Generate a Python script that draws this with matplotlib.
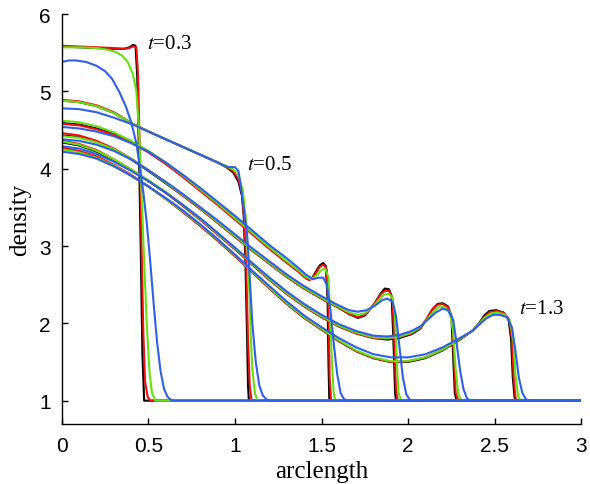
#!/usr/bin/env python

"""
plot.py

density along the arclength at t=0.3 ... 1.3, four resolutions
"""

import matplotlib as mpl
mpl.use('Agg')
import matplotlib.pyplot as plt

"""------------------------------------- DATA -----------------------------------------"""

# t=0.3
x03_k = [0, 0.1, 0.2, 0.3, 0.36, 0.39, 0.41, 0.425, 0.435, 0.445, 0.455, 0.465, 0.475, 3.0]
y03_k = [5.58, 5.57, 5.56, 5.55, 5.55, 5.57, 5.60, 5.59, 5.2, 4.2, 3.0, 1.6, 1.0, 1.0]
x03_r = [0, 0.1, 0.2, 0.3, 0.36, 0.39, 0.41, 0.43, 0.44, 0.45, 0.46, 0.47, 0.48, 0.495, 0.51, 3.0]
y03_r = [5.59, 5.58, 5.57, 5.56, 5.55, 5.56, 5.58, 5.57, 5.2, 4.2, 3.0, 1.9, 1.25, 1.05, 1.0, 1.0]
x03_g = [0, 0.1, 0.2, 0.26, 0.31, 0.35, 0.38, 0.41, 0.43, 0.445, 0.46, 0.475, 0.49, 0.505, 0.52, 0.54, 3.0]
y03_g = [5.57, 5.57, 5.56, 5.54, 5.51, 5.46, 5.38, 5.22, 5.0, 4.5, 3.7, 2.8, 2.0, 1.4, 1.1, 1.0, 1.0]
x03_b = [0, 0.04, 0.08, 0.14, 0.2, 0.25, 0.29, 0.33, 0.37, 0.40, 0.43, 0.45, 0.47, 0.49,
         0.51, 0.53, 0.55, 0.57, 0.59, 0.61, 0.63, 0.65, 3.0]
y03_b = [5.38, 5.40, 5.40, 5.38, 5.33, 5.26, 5.16, 5.0, 4.8, 4.6, 4.33, 4.02, 3.7, 3.3,
         2.8, 2.25, 1.75, 1.38, 1.15, 1.05, 1.01, 1.0, 1.0]

# t=0.5
x05_k = [0, 0.1, 0.2, 0.3, 0.41, 0.5, 0.6, 0.7, 0.8, 0.9, 0.95, 0.99, 1.02, 1.04, 1.05,
         1.06, 1.07, 1.075, 1.08, 3.0]
y05_k = [4.88, 4.86, 4.81, 4.72, 4.58, 4.48, 4.38, 4.28, 4.18, 4.08, 4.02, 3.95, 3.83, 3.65, 3.4,
         2.8, 1.8, 1.2, 1.0, 1.0]
x05_r = [0, 0.1, 0.2, 0.3, 0.41, 0.5, 0.6, 0.7, 0.8, 0.9, 0.95, 0.99, 1.02, 1.04, 1.055,
         1.065, 1.075, 1.085, 1.095, 3.0]
y05_r = [4.89, 4.87, 4.82, 4.73, 4.58, 4.48, 4.38, 4.28, 4.18, 4.08, 4.02, 3.97, 3.86, 3.7, 3.3,
         2.7, 1.8, 1.2, 1.0, 1.0]
x05_g = [0, 0.1, 0.2, 0.3, 0.41, 0.5, 0.6, 0.7, 0.8, 0.9, 0.95, 0.99, 1.02, 1.045, 1.065,
         1.08, 1.09, 1.10, 1.115, 1.13, 3.0]
y05_g = [4.88, 4.86, 4.81, 4.72, 4.58, 4.48, 4.38, 4.28, 4.18, 4.08, 4.03, 3.99, 3.92, 3.72, 3.3,
         2.6, 1.9, 1.4, 1.1, 1.0, 1.0]
x05_b = [0, 0.1, 0.2, 0.3, 0.41, 0.5, 0.6, 0.7, 0.8, 0.9, 0.96, 1.0, 1.02, 1.035, 1.05,
         1.07, 1.085, 1.10, 1.12, 1.14, 1.16, 1.18, 1.20, 3.0]
y05_b = [4.78, 4.77, 4.73, 4.66, 4.57, 4.48, 4.38, 4.28, 4.18, 4.08, 4.02, 4.02, 3.97, 3.75, 3.5,
         3.15, 2.6, 2.0, 1.5, 1.2, 1.07, 1.02, 1.0, 1.0]

# t=0.7
x07_k = [0, 0.1, 0.2, 0.3, 0.4, 0.5, 0.6, 0.7, 0.8, 0.9, 1.0, 1.1, 1.2, 1.3, 1.37, 1.41,
         1.43, 1.45, 1.47, 1.49, 1.51, 1.525, 1.535, 1.54, 1.545, 3.0]
y07_k = [4.59, 4.57, 4.52, 4.45, 4.35, 4.22, 4.07, 3.9, 3.72, 3.54, 3.35, 3.16, 2.97, 2.79, 2.67, 2.59,
         2.56, 2.6, 2.68, 2.75, 2.78, 2.74, 2.3, 1.5, 1.0, 1.0]
x07_r = [0, 0.1, 0.2, 0.3, 0.4, 0.5, 0.6, 0.7, 0.8, 0.9, 1.0, 1.1, 1.2, 1.3, 1.37, 1.41,
         1.43, 1.45, 1.47, 1.49, 1.51, 1.53, 1.54, 1.547, 1.555, 3.0]
y07_r = [4.58, 4.56, 4.51, 4.44, 4.34, 4.21, 4.06, 3.89, 3.71, 3.53, 3.34, 3.15, 2.96, 2.78, 2.66, 2.58,
         2.56, 2.59, 2.66, 2.73, 2.76, 2.7, 2.2, 1.3, 1.0, 1.0]
x07_g = [0, 0.1, 0.2, 0.3, 0.4, 0.5, 0.6, 0.7, 0.8, 0.9, 1.0, 1.1, 1.2, 1.3, 1.37, 1.41,
         1.44, 1.47, 1.50, 1.52, 1.54, 1.55, 1.56, 1.57, 1.58, 3.0]
y07_g = [4.62, 4.60, 4.55, 4.47, 4.36, 4.23, 4.08, 3.91, 3.73, 3.55, 3.36, 3.17, 2.98, 2.8, 2.68, 2.6,
         2.57, 2.62, 2.69, 2.71, 2.6, 2.1, 1.5, 1.1, 1.0, 1.0]
x07_b = [0, 0.1, 0.2, 0.3, 0.4, 0.5, 0.6, 0.7, 0.8, 0.9, 1.0, 1.1, 1.2, 1.3, 1.37, 1.41,
         1.45, 1.48, 1.51, 1.53, 1.55, 1.57, 1.59, 1.61, 1.63, 1.65, 3.0]
y07_b = [4.54, 4.52, 4.48, 4.42, 4.33, 4.22, 4.08, 3.92, 3.75, 3.57, 3.39, 3.2, 3.01, 2.84, 2.71, 2.63,
         2.57, 2.59, 2.59, 2.5, 2.2, 1.75, 1.35, 1.1, 1.02, 1.0, 1.0]

# t=0.9
x09_k = [0, 0.1, 0.2, 0.3, 0.4, 0.5, 0.6, 0.7, 0.8, 0.9, 1.0, 1.1, 1.2, 1.3, 1.4, 1.5, 1.6,
         1.66, 1.71, 1.75, 1.78, 1.81, 1.84, 1.865, 1.89, 1.905, 1.915, 1.925, 1.93, 3.0]
y09_k = [4.43, 4.41, 4.35, 4.25, 4.12, 3.97, 3.81, 3.65, 3.48, 3.30, 3.12, 2.94, 2.77, 2.6, 2.45, 2.32, 2.2,
         2.12, 2.07, 2.1, 2.18, 2.27, 2.38, 2.45, 2.44, 2.35, 1.8, 1.1, 1.0, 1.0]
x09_r = [0, 0.1, 0.2, 0.3, 0.4, 0.5, 0.6, 0.7, 0.8, 0.9, 1.0, 1.1, 1.2, 1.3, 1.4, 1.5, 1.6,
         1.66, 1.71, 1.75, 1.78, 1.81, 1.84, 1.865, 1.89, 1.91, 1.92, 1.93, 1.94, 3.0]
y09_r = [4.46, 4.43, 4.36, 4.26, 4.13, 3.98, 3.82, 3.65, 3.48, 3.30, 3.12, 2.94, 2.77, 2.6, 2.45, 2.32, 2.2,
         2.12, 2.08, 2.11, 2.18, 2.27, 2.37, 2.42, 2.42, 2.32, 1.8, 1.15, 1.0, 1.0]
x09_g = [0, 0.1, 0.2, 0.3, 0.4, 0.5, 0.6, 0.7, 0.8, 0.9, 1.0, 1.1, 1.2, 1.3, 1.4, 1.5, 1.6,
         1.66, 1.71, 1.75, 1.79, 1.83, 1.86, 1.89, 1.91, 1.925, 1.935, 1.945, 1.96, 3.0]
y09_g = [4.42, 4.40, 4.34, 4.25, 4.13, 3.98, 3.82, 3.66, 3.49, 3.31, 3.13, 2.95, 2.78, 2.61, 2.46, 2.33, 2.21,
         2.14, 2.11, 2.13, 2.2, 2.3, 2.37, 2.38, 2.33, 2.1, 1.5, 1.1, 1.0, 1.0]
x09_b = [0, 0.1, 0.2, 0.3, 0.4, 0.5, 0.6, 0.7, 0.8, 0.9, 1.0, 1.1, 1.2, 1.3, 1.4, 1.5, 1.6,
         1.66, 1.71, 1.76, 1.81, 1.85, 1.88, 1.91, 1.93, 1.95, 1.97, 1.99, 2.01, 2.03, 3.0]
y09_b = [4.38, 4.36, 4.31, 4.23, 4.12, 3.98, 3.83, 3.67, 3.5, 3.33, 3.15, 2.97, 2.8, 2.63, 2.48, 2.35, 2.23,
         2.17, 2.15, 2.17, 2.23, 2.3, 2.32, 2.28, 2.1, 1.7, 1.3, 1.08, 1.01, 1.0, 1.0]

# t=1.1
x11_k = [0, 0.1, 0.2, 0.3, 0.4, 0.5, 0.6, 0.7, 0.8, 0.9, 1.0, 1.1, 1.2, 1.3, 1.4, 1.5, 1.6, 1.7,
         1.8, 1.88, 1.95, 2.02, 2.07, 2.11, 2.14, 2.17, 2.2, 2.23, 2.25, 2.26, 2.27, 2.28, 3.0]
y11_k = [4.34, 4.30, 4.22, 4.11, 3.98, 3.84, 3.69, 3.52, 3.34, 3.15, 2.96, 2.76, 2.56, 2.38, 2.22, 2.08, 1.96, 1.87,
         1.81, 1.79, 1.81, 1.86, 1.93, 2.06, 2.18, 2.25, 2.26, 2.22, 2.1, 1.6, 1.1, 1.0, 1.0]
x11_r = [0, 0.1, 0.2, 0.3, 0.4, 0.5, 0.6, 0.7, 0.8, 0.9, 1.0, 1.1, 1.2, 1.3, 1.4, 1.5, 1.6, 1.7,
         1.8, 1.88, 1.95, 2.02, 2.07, 2.11, 2.14, 2.17, 2.2, 2.23, 2.255, 2.265, 2.275, 2.29, 3.0]
y11_r = [4.36, 4.32, 4.24, 4.12, 3.99, 3.84, 3.69, 3.52, 3.34, 3.15, 2.96, 2.76, 2.56, 2.38, 2.22, 2.08, 1.96, 1.87,
         1.81, 1.80, 1.82, 1.87, 1.94, 2.07, 2.18, 2.24, 2.25, 2.21, 2.05, 1.55, 1.1, 1.0, 1.0]
x11_g = [0, 0.1, 0.2, 0.3, 0.4, 0.5, 0.6, 0.7, 0.8, 0.9, 1.0, 1.1, 1.2, 1.3, 1.4, 1.5, 1.6, 1.7,
         1.8, 1.88, 1.95, 2.02, 2.07, 2.11, 2.15, 2.18, 2.21, 2.24, 2.26, 2.275, 2.29, 2.31, 3.0]
y11_g = [4.35, 4.31, 4.23, 4.12, 3.99, 3.85, 3.70, 3.53, 3.35, 3.16, 2.97, 2.77, 2.57, 2.39, 2.23, 2.09, 1.97, 1.88,
         1.82, 1.81, 1.83, 1.88, 1.95, 2.05, 2.16, 2.21, 2.21, 2.15, 1.9, 1.4, 1.08, 1.0, 1.0]
x11_b = [0, 0.1, 0.2, 0.3, 0.4, 0.5, 0.6, 0.7, 0.8, 0.9, 1.0, 1.1, 1.2, 1.3, 1.4, 1.5, 1.6, 1.7,
         1.8, 1.88, 1.95, 2.02, 2.07, 2.12, 2.16, 2.2, 2.23, 2.26, 2.28, 2.3, 2.32, 2.34, 2.36, 3.0]
y11_b = [4.29, 4.26, 4.19, 4.09, 3.97, 3.84, 3.69, 3.53, 3.36, 3.17, 2.98, 2.78, 2.59, 2.41, 2.25, 2.11, 1.99, 1.90,
         1.84, 1.83, 1.85, 1.9, 1.96, 2.06, 2.14, 2.19, 2.17, 2.05, 1.75, 1.4, 1.15, 1.03, 1.0, 1.0]

# t=1.3
x13_k = [0, 0.1, 0.2, 0.3, 0.4, 0.5, 0.6, 0.7, 0.8, 0.9, 1.0, 1.1, 1.2, 1.3, 1.4, 1.5, 1.6, 1.7,
         1.8, 1.9, 2.0, 2.1, 2.2, 2.3, 2.37, 2.41, 2.44, 2.47, 2.51, 2.55, 2.58, 2.595, 2.605,
         2.615, 2.62, 3.0]
y13_k = [4.26, 4.22, 4.15, 4.04, 3.91, 3.77, 3.61, 3.44, 3.26, 3.07, 2.87, 2.66, 2.45, 2.25, 2.07, 1.92, 1.77, 1.64,
         1.55, 1.50, 1.50, 1.55, 1.65, 1.79, 1.9, 2.0, 2.1, 2.16, 2.17, 2.14, 2.06, 1.8, 1.3,
         1.05, 1.0, 1.0]
x13_r = [0, 0.1, 0.2, 0.3, 0.4, 0.5, 0.6, 0.7, 0.8, 0.9, 1.0, 1.1, 1.2, 1.3, 1.4, 1.5, 1.6, 1.7,
         1.8, 1.9, 2.0, 2.1, 2.2, 2.3, 2.37, 2.41, 2.44, 2.47, 2.51, 2.55, 2.585, 2.60, 2.61,
         2.62, 2.63, 3.0]
y13_r = [4.27, 4.23, 4.16, 4.05, 3.92, 3.77, 3.61, 3.44, 3.26, 3.07, 2.87, 2.66, 2.45, 2.25, 2.07, 1.92, 1.77, 1.64,
         1.55, 1.50, 1.51, 1.56, 1.66, 1.8, 1.9, 1.99, 2.08, 2.14, 2.16, 2.14, 2.05, 1.8, 1.3,
         1.05, 1.0, 1.0]
x13_g = [0, 0.1, 0.2, 0.3, 0.4, 0.5, 0.6, 0.7, 0.8, 0.9, 1.0, 1.1, 1.2, 1.3, 1.4, 1.5, 1.6, 1.7,
         1.8, 1.9, 2.0, 2.1, 2.2, 2.3, 2.37, 2.41, 2.44, 2.48, 2.52, 2.56, 2.59, 2.61, 2.62,
         2.635, 2.65, 3.0]
y13_g = [4.25, 4.21, 4.14, 4.04, 3.91, 3.77, 3.61, 3.45, 3.27, 3.08, 2.88, 2.67, 2.46, 2.26, 2.08, 1.93, 1.78, 1.65,
         1.56, 1.51, 1.51, 1.56, 1.66, 1.8, 1.9, 1.99, 2.07, 2.13, 2.14, 2.11, 2.02, 1.75, 1.35,
         1.07, 1.0, 1.0]
x13_b = [0, 0.1, 0.2, 0.3, 0.4, 0.5, 0.6, 0.7, 0.8, 0.9, 1.0, 1.1, 1.2, 1.3, 1.4, 1.5, 1.6, 1.7,
         1.8, 1.9, 2.0, 2.1, 2.2, 2.3, 2.37, 2.41, 2.45, 2.49, 2.53, 2.57, 2.60, 2.62, 2.64,
         2.66, 2.68, 2.70, 3.0]
y13_b = [4.22, 4.19, 4.13, 4.03, 3.91, 3.77, 3.62, 3.46, 3.28, 3.09, 2.89, 2.68, 2.48, 2.28, 2.1, 1.95, 1.81, 1.69,
         1.6, 1.56, 1.56, 1.6, 1.69, 1.81, 1.9, 1.98, 2.06, 2.11, 2.11, 2.08, 1.95, 1.65, 1.3,
         1.1, 1.02, 1.0, 1.0]

curves_k = [(x03_k, y03_k), (x05_k, y05_k), (x07_k, y07_k), (x09_k, y09_k), (x11_k, y11_k), (x13_k, y13_k)]
curves_r = [(x03_r, y03_r), (x05_r, y05_r), (x07_r, y07_r), (x09_r, y09_r), (x11_r, y11_r), (x13_r, y13_r)]
curves_g = [(x03_g, y03_g), (x05_g, y05_g), (x07_g, y07_g), (x09_g, y09_g), (x11_g, y11_g), (x13_g, y13_g)]
curves_b = [(x03_b, y03_b), (x05_b, y05_b), (x07_b, y07_b), (x09_b, y09_b), (x11_b, y11_b), (x13_b, y13_b)]

# labelled times: (label, arclength, density)
labels = [('0.3', 0.49, 5.62), ('0.5', 1.07, 4.05), ('1.3', 2.64, 2.19)]

"""------------------------------------------------------------------------------------"""

plt.rcParams['mathtext.fontset'] = 'stix'

fig = plt.figure(figsize=(5.9, 4.85), dpi=100)
ax = fig.add_axes([0.105, 0.124, 0.880, 0.845])

for curves, col in [(curves_k, '#000000'), (curves_r, '#ee1111'),
                    (curves_g, '#66e010'), (curves_b, '#2f5fe6')]:
    for xs, ys in curves:
        ax.plot(xs, ys, '-', color=col, linewidth=1.5, solid_joinstyle='round')

for lab, xx, yy in labels:
    ax.text(xx, yy, r'$t$=' + lab, fontsize=15, family='Liberation Serif', va='center', ha='left')

ax.set_xlim(0, 3)
ax.set_ylim(0.7, 6)
ax.set_xticks([0, 0.5, 1, 1.5, 2, 2.5, 3])
ax.set_xticklabels(['0', '0.5', '1', '1.5', '2', '2.5', '3'])
ax.set_yticks([1, 2, 3, 4, 5, 6])
for s in ['top', 'right']:
    ax.spines[s].set_visible(False)
for s in ['left', 'bottom']:
    ax.spines[s].set_linewidth(1.0)
ax.tick_params(direction='in', length=4, width=1.0, labelsize=15)
ax.tick_params(axis='x', pad=9)
ax.tick_params(axis='y', pad=8)
for t in ax.get_xticklabels() + ax.get_yticklabels():
    t.set_family('Liberation Sans')

ax.set_xlabel('arclength', fontsize=18, family='Liberation Serif', labelpad=3)
ax.set_ylabel('density', fontsize=18, family='Liberation Serif', labelpad=6)

plt.savefig('out.png', dpi=100)
plt.close()
